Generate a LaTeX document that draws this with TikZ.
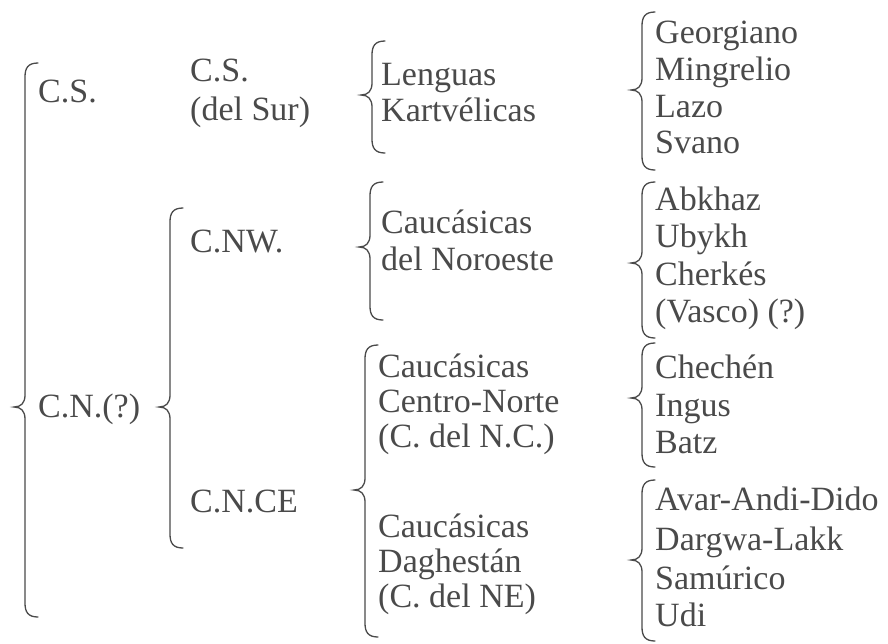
\documentclass[tikz,border=0pt]{standalone}
\usepackage{fontspec}
\setmainfont{Liberation Serif}
\definecolor{tinta}{HTML}{4A4A4A}
\tikzset{
  texto/.style={anchor=base west, inner sep=0pt, text=tinta, font=\fontsize{34}{37}\selectfont},
  llave/.style={draw=tinta, line width=1.3pt, line cap=round}
}
% llave: x de la linea, arriba, punta, abajo
\newcommand{\llave}[4]{%
  \draw[llave] (#1+13,#2) .. controls (#1+3,#2) and (#1,#2+5) .. (#1,#2+14)
    -- (#1,#3-12) .. controls (#1,#3-4) and (#1-4,#3) .. (#1-11,#3)
    .. controls (#1-4,#3) and (#1,#3+4) .. (#1,#3+12)
    -- (#1,#4-14) .. controls (#1,#4-5) and (#1+3,#4) .. (#1+13,#4);}

\begin{document}
\begin{tikzpicture}[x=1pt, y=-1pt]
    \useasboundingbox (0,0) rectangle (888,643);

    % primer nivel
    \llave{25}{63}{407}{617}
    \node[texto] (cs) at (38,102) {C.S.};
    \node[texto] (cn) at (38,417) {C.N.(?)};

    % segundo nivel
    \node[texto] (csur) at (190,81) {C.S.};
    \node[texto] (delsur) at (190,120) {(del Sur)};
    \llave{170}{208}{407}{548}
    \node[texto] (cnw) at (190,252) {C.NW.};
    \node[texto] (cnce) at (190,512) {C.N.CE};

    % tercer nivel
    \llave{372}{41}{95}{153}
    \llave{370}{182}{247}{320}
    \llave{365}{345}{490}{637}
    \foreach \y/\t [count=\i] in {85/Lenguas, 121/Kartvélicas}
        \node[texto] (kart\i) at (381,\y) {\t};
    \foreach \y/\t [count=\i] in {233/Caucásicas, 270/del Noroeste}
        \node[texto] (nw\i) at (381,\y) {\t};
    \foreach \y/\t [count=\i] in {377/Caucásicas, 412/Centro-Norte, 447/(C. del N.C.)}
        \node[texto] (nc\i) at (378,\y) {\t};
    \foreach \y/\t [count=\i] in {537/Caucásicas, 572/Daghestán, 607/(C. del NE)}
        \node[texto] (ne\i) at (378,\y) {\t};

    % lenguas
    \llave{642}{12}{90}{170}
    \llave{642}{182}{263}{338}
    \llave{642}{343}{398}{467}
    \llave{642}{480}{560}{641}
    \foreach \y/\t [count=\i] in {43/Georgiano, 80/Mingrelio, 117/Lazo, 153/Svano}
        \node[texto] (len\i) at (655,\y) {\t};
    \foreach \y/\t [count=\i] in {210/Abkhaz, 247/Ubykh, 285/Cherkés, 322/(Vasco) (?)}
        \node[texto] (abk\i) at (655,\y) {\t};
    \foreach \y/\t [count=\i] in {378/Chechén, 416/Ingus, 453/Batz}
        \node[texto] (che\i) at (655,\y) {\t};
    \foreach \y/\t [count=\i] in {510/Avar-Andi-Dido, 550/Dargwa-Lakk, 589/Samúrico, 626/Udi}
        \node[texto] (dag\i) at (655,\y) {\t};
\end{tikzpicture}
\end{document}
